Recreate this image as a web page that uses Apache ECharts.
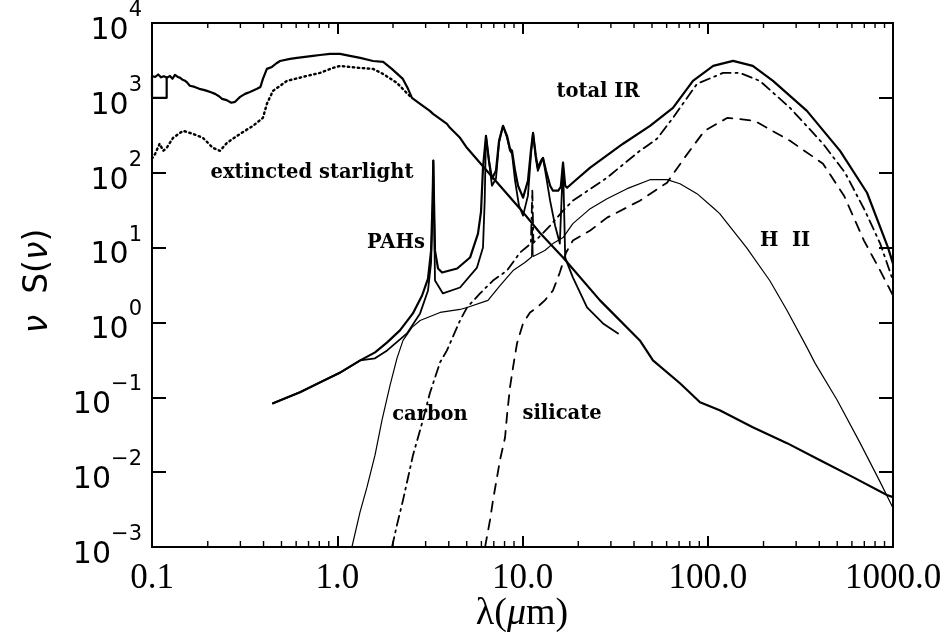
<!DOCTYPE html>
<html><head><meta charset="utf-8">
<script src="https://cdn.jsdelivr.net/npm/echarts@6/dist/echarts.min.js"></script>
<style>
html,body{margin:0;padding:0;background:#fff}
#wrap{position:relative;width:952px;height:638px}
#c{position:absolute;left:0;top:0;width:952px;height:638px}
#t{position:absolute;left:0;top:0;width:952px;height:638px;pointer-events:none}
</style>
</head><body><div id="wrap"><div id="c"></div><div id="t"></div></div>
<script>
// ---- data: [wavelength (um), nu S(nu)] ----
const xTickLabels = ['0.1', '1.0', '10.0', '100.0', '1000.0'];

const starlight = [[0.12,1900],[0.12,1000],[0.1,1000],[0.1,1960],[0.104,1900],[0.108,2050],[0.112,1880],[0.116,1950],[0.12,1850],[0.125,1960],[0.129,1800],[0.133,2030],[0.138,1900],[0.142,1850],[0.146,1750],[0.151,1690],[0.155,1600],[0.16,1450],[0.17,1400],[0.18,1320],[0.19,1280],[0.198,1240],[0.21,1180],[0.219,1130],[0.23,1050],[0.239,970],[0.25,940],[0.257,912],[0.268,860],[0.281,885],[0.29,960],[0.299,1030],[0.318,1130],[0.338,1200],[0.369,1320],[0.385,1400],[0.393,1450],[0.397,1790],[0.417,2440],[0.444,2590],[0.47,2900],[0.491,3110],[0.556,3310],[0.607,3420],[0.67,3520],[0.74,3630],[0.807,3740],[0.914,3860],[1.035,3860],[1.17,3630],[1.33,3420],[1.56,3110],[1.77,3020],[1.97,2440],[2.26,1790],[2.41,1320],[2.53,1000],[2.8,832],[3.16,671],[3.29,612],[3.91,450],[4.06,398],[4.6,293],[5.01,215],[6.28,113],[9.7,33.1],[12.4,15.8],[16.55,7.36],[26.2,1.97],[43,0.575],[50.6,0.311],[70.8,0.154],[90.8,0.0858],[116,0.0671],[175,0.0398],[268,0.0244],[404,0.01445],[608,0.00858],[927,0.00494],[1000,0.00464]];

const extinctedStarlight = [[0.1,154],[0.104,179],[0.11,244],[0.115,196],[0.12,215],[0.13,293],[0.147,363],[0.166,331],[0.188,293],[0.213,215],[0.233,196],[0.254,251],[0.299,331],[0.351,423],[0.397,541],[0.417,832],[0.45,1240],[0.535,1686],[0.686,1965],[0.807,2154],[0.948,2512],[1.035,2670],[1.327,2512],[1.56,2437],[1.766,2089],[2.1,1585],[2.38,1150],[2.53,1000]];

const totalIR = [[0.45,0.083],[0.63,0.117],[0.81,0.159],[1.04,0.215],[1.33,0.311],[1.6,0.398],[1.86,0.541],[2.18,0.782],[2.56,1.32],[2.87,2.29],[3.09,3.86],[3.21,9.1],[3.27,42],[3.3,145],[3.33,42],[3.37,9.1],[3.5,5.25],[3.68,4.64],[4.44,5.25],[5.21,7.36],[5.75,15.4],[5.97,30],[6.12,117],[6.35,311],[6.59,145],[6.84,83],[7.19,106],[7.47,267],[7.85,423],[8.25,311],[8.56,209],[8.78,196],[9.12,106],[9.46,67],[10.07,46.4],[10.7,78],[11.1,196],[11.4,341],[11.8,169],[12.1,117],[12.6,145],[12.9,158],[13.4,106],[14.1,67],[14.6,57.5],[15.6,57.5],[16.1,65],[16.55,136],[17.0,67],[17.4,63],[19.2,78],[23.2,117],[34.9,244],[48.8,423],[64.9,736],[83.2,1686],[107,2670],[137,3113],[175,2670],[225,1686],[343,671],[518,196],[724,54],[940,10],[1000,6.1]];

const pahs = [[0.45,0.083],[0.63,0.117],[0.81,0.159],[1.04,0.215],[1.33,0.311],[1.6,0.331],[1.86,0.423],[2.38,0.714],[2.8,1.32],[3.09,2.67],[3.21,6.3],[3.27,31],[3.3,145],[3.33,31],[3.37,3.63],[3.72,2.44],[4.6,2.93],[5.68,5.41],[6.12,10],[6.25,42],[6.35,311],[6.59,145],[6.84,67],[7.19,83],[7.47,251],[7.85,423],[8.25,293],[8.56,196],[8.78,179],[9.12,78],[9.57,36.3],[10.07,26.7],[10.7,49.4],[11.1,169],[11.4,341],[11.8,154],[12.1,106],[12.6,136],[12.9,158],[13.4,91],[14.1,42],[15.0,19.6],[15.9,11.3],[16.55,136],[17.0,7.4],[17.4,6.3],[18.7,4.0],[22.3,1.59],[27.2,0.97],[32.8,0.71]];

const hii = [[1.2,0.001],[1.327,0.00293],[1.447,0.0063],[1.599,0.01686],[1.744,0.0494],[1.927,0.1445],[2.1,0.331],[2.265,0.575],[2.532,0.858],[2.8,1.063],[3.59,1.36],[4.6,1.49],[5.02,1.585],[6.51,1.97],[7.56,3.11],[8.89,4.93],[10.3,6.31],[11.2,7.5],[11.3,18.5],[11.4,7.6],[13.2,9.12],[14.6,11.3],[16.55,13.6],[18.7,20.9],[23.2,33.1],[28.6,45],[36.7,61.2],[48.8,80.7],[60.3,80.7],[70.8,71.3],[87.5,52.5],[107,34.1],[116,28.4],[162,10],[216,3.63],[268,1.445],[343,0.464],[380,0.284],[500,0.0912],[665,0.0244],[853,0.00736],[1000,0.00331]];

const carbon = [[1.975,0.001],[2.1,0.00196],[2.265,0.00423],[2.564,0.01686],[2.9,0.0494],[3.16,0.113],[3.59,0.293],[3.91,0.423],[4.6,1.063],[5.02,1.585],[5.9,2.44],[6.93,3.63],[8.25,4.93],[9.7,8.58],[11.1,11.3],[11.3,57.5],[11.45,11.6],[14.1,19.6],[16.55,31.1],[18.7,42.3],[28.6,85.8],[43,196],[53.2,284],[64.9,541],[87.5,1537],[120.9,2154],[149,2154],[191,1686],[278,736],[419,244],[551,100],[706,31.1],[853,11.3],[1000,3.63]];

const silicate = [[6.28,0.001],[6.68,0.0023],[6.93,0.0042],[7.56,0.0145],[8.05,0.029],[8.25,0.0575],[8.56,0.136],[8.89,0.251],[9.34,0.525],[10.07,0.97],[10.98,1.36],[11.97,1.585],[13.2,1.97],[14.6,2.67],[15.9,4.64],[17.2,8.58],[18.7,12.4],[23.2,16.9],[28.6,25.1],[43,42.3],[60.3,73.6],[74.9,158],[96,363],[127.8,541],[178.8,494],[278,267],[419,132],[544,49.4],[697,12.4],[853,4.93],[1000,2.29]];

// minor tick positions of the log x axis (2..9 in each decade)
const xMinorTicks = [0.2,0.3,0.4,0.5,0.6,0.7,0.8,0.9,2,3,4,5,6,7,8,9,20,30,40,50,60,70,80,90,200,300,400,500,600,700,800,900];

// ---- shared layout ----
const black = '#000';
const X_MIN = 0.1, X_MAX = 1000, Y_MIN = 0.001, Y_MAX = 10000;
const GRID = {left: 152, right: 59, top: 22, bottom: 91};

function xLabel(v) {
  const i = Math.round(Math.log10(Number(v))) + 1;
  const s = xTickLabels[i];
  return typeof s === 'string' ? s : '';
}
function yLabel(v) {
  const e = Math.round(Math.log10(Number(v)));
  if (!isFinite(e)) return '';
  return '{h| }{b|10}{s|' + (e < 0 ? '\u2212' + (-e) : String(e)) + '}';
}

// ---- main chart: frame, y ticks, labels, curves ----
const chart = echarts.init(document.getElementById('c'));

function xAxisDef(pos, showLabel) {
  return {
    type: 'log', logBase: 10, min: X_MIN, max: X_MAX, interval: 1, position: pos,
    axisLine: {show: true, onZero: false, lineStyle: {color: black, width: 2}},
    axisTick: {show: true, inside: true, length: 11, lineStyle: {color: black, width: 2}},
    minorTick: {show: false},
    splitLine: {show: false},
    axisLabel: showLabel ? {
      show: true, margin: 14, color: black, fontFamily: 'Liberation Serif', fontSize: 35,
      formatter: xLabel
    } : {show: false}
  };
}
function yAxisDef(pos, showLabel) {
  return {
    type: 'log', logBase: 10, min: Y_MIN, max: Y_MAX, interval: 1, position: pos,
    axisLine: {show: true, onZero: false, lineStyle: {color: black, width: 2}},
    axisTick: {show: true, inside: true, length: 14, lineStyle: {color: black, width: 2}},
    minorTick: {show: false},
    splitLine: {show: false},
    axisLabel: showLabel ? {
      show: true, margin: 10, color: black,
      formatter: yLabel,
      rich: {
        h: {fontSize: 2, lineHeight: 46},
        b: {fontFamily: 'DejaVu Sans', fontSize: 30, lineHeight: 30, verticalAlign: 'bottom', color: black},
        s: {fontFamily: 'DejaVu Sans', fontSize: 21, lineHeight: 21, verticalAlign: 'top', color: black}
      }
    } : {show: false}
  };
}

function line(name, data, width, type) {
  return {
    name, type: 'line', data, xAxisIndex: 0, yAxisIndex: 0,
    showSymbol: false, symbol: 'none', clip: true,
    lineStyle: {color: black, width, type: type || 'solid', cap: 'round', join: 'round'}
  };
}

const labelFont = {fontFamily: 'DejaVu Serif', fontWeight: 'bold', fontSize: 19.5, fill: black};
function label(text, x, y) {
  return {type: 'text', x, y, silent: true, style: Object.assign({text, align: 'center', verticalAlign: 'middle'}, labelFont)};
}

chart.setOption({
  animation: false,
  backgroundColor: '#fff',
  grid: GRID,
  xAxis: [xAxisDef('bottom', true), xAxisDef('top', false)],
  yAxis: [yAxisDef('left', true), yAxisDef('right', false)],
  series: [
    line('starlight', starlight, 2.2),
    line('extincted starlight', extinctedStarlight, 2.4, [1.5, 3.5]),
    line('total IR', totalIR, 2.2),
    line('PAHs', pahs, 1.8),
    line('H II', hii, 1.2),
    line('carbon', carbon, 1.8, [10, 5, 2, 5]),
    line('silicate', silicate, 1.8, [10, 8])
  ],
  graphic: [
    label('extincted starlight', 312, 173),
    label('total IR', 598, 92),
    label('PAHs', 396, 243),
    label('H  II', 785, 241),
    label('carbon', 430, 415),
    label('silicate', 562, 414),
    {type: 'text', x: 522, y: 614, silent: true,
     style: {text: 'λ({i|μ}m)', align: 'center', verticalAlign: 'middle',
             fontFamily: 'Liberation Serif', fontSize: 38, fill: black,
             rich: {i: {fontFamily: 'Liberation Serif', fontStyle: 'italic', fontSize: 38, fill: black}}}},
    {type: 'text', x: 38, y: 281, rotation: Math.PI / 2, silent: true,
     style: {text: '{i|ν}  S({i|ν})', align: 'center', verticalAlign: 'middle',
             fontFamily: 'DejaVu Sans', fontSize: 33, fill: black,
             rich: {i: {fontFamily: 'DejaVu Sans', fontStyle: 'italic', fontSize: 33, fill: black}}}}
  ]
});

// ---- overlay chart (transparent): x-axis major and minor ticks on top and bottom ----
const tickChart = echarts.init(document.getElementById('t'));
function tickXAxis(pos) {
  return {
    type: 'log', logBase: 10, min: X_MIN, max: X_MAX, interval: 1, position: pos,
    axisLine: {show: false},
    axisTick: {show: true, inside: true, length: 11, lineStyle: {color: black, width: 2}},
    minorTick: {show: false},
    splitLine: {show: false},
    axisLabel: {show: false}
  };
}
tickChart.setOption({
  animation: false,
  grid: GRID,
  xAxis: [tickXAxis('bottom'), tickXAxis('top')],
  yAxis: [{type: 'log', logBase: 10, min: Y_MIN, max: Y_MAX, interval: 1, show: false}],
  series: [{
    type: 'custom', xAxisIndex: 0, yAxisIndex: 0, clip: false,
    data: xMinorTicks.map(v => [v, 1]),
    encode: {x: 0, y: 1},
    renderItem: (params, api) => {
      const v = api.value(0);
      const pb = api.coord([v, Y_MIN]);
      const pt = api.coord([v, Y_MAX]);
      return {
        type: 'group', children: [
          {type: 'rect', shape: {x: pb[0] - 0.7, y: pb[1] - 6, width: 1.4, height: 6}, style: {fill: black}},
          {type: 'rect', shape: {x: pt[0] - 0.7, y: pt[1], width: 1.4, height: 6}, style: {fill: black}}
        ]
      };
    }
  }]
});
</script></body></html>
